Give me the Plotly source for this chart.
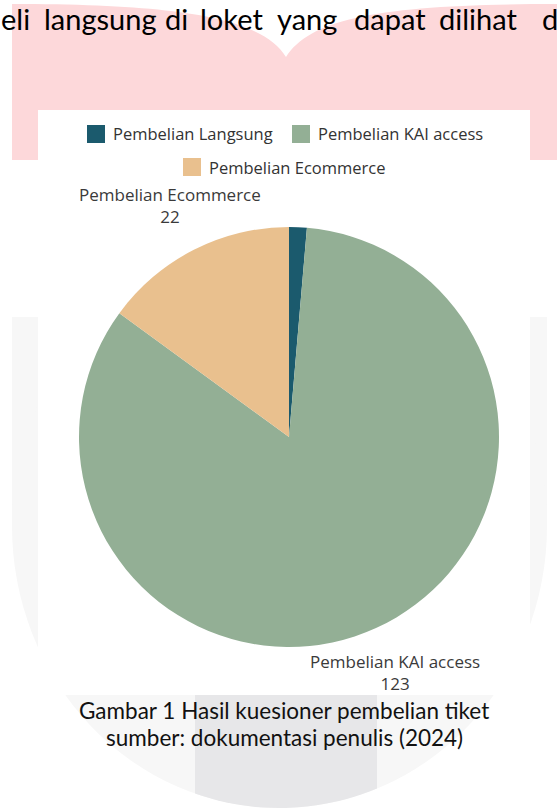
import plotly.graph_objects as go

# ---------------- data ----------------
labels = ["Pembelian Langsung", "Pembelian KAI access", "Pembelian Ecommerce"]
values = [2, 123, 22]
colors = ["#1b5a6d", "#93af95", "#e9c08e"]
shown_labels = [False, True, True]

top_words = ["eli", "langsung", "di", "loket", "yang", "dapat", "dilihat", "d"]
caption_lines = ["Gambar 1 Hasil kuesioner pembelian tiket",
                 "sumber: dokumentasi penulis (2024)"]

# ---------------- layout helpers ----------------
W, H = 557, 810


def px(x):
    return x / W


def py(y):
    return 1 - y / H


shapes = []

# pink watermark band (top)
pink_path = (
    f"M {px(12)},{py(160)} L {px(12)},{py(4)} "
    f"C {px(180)},{py(4)} {px(262)},{py(18)} {px(286)},{py(57)} "
    f"C {px(312)},{py(16)} {px(390)},{py(4)} {px(560)},{py(4)} "
    f"L {px(560)},{py(160)} Z"
)
shapes.append(dict(type="path", path=pink_path, xref="paper", yref="paper",
                   fillcolor="#fdd8da", line=dict(width=0), layer="below"))

# light gray U watermark
ugray = "#f7f7f7"
shapes.append(dict(type="rect", xref="paper", yref="paper",
                   x0=px(12), x1=px(547), y0=py(317), y1=py(526),
                   fillcolor=ugray, line=dict(width=0), layer="below"))
shapes.append(dict(type="circle", xref="paper", yref="paper",
                   x0=px(12), x1=px(547), y0=py(526 - 282), y1=py(526 + 282),
                   fillcolor=ugray, line=dict(width=0), layer="below"))

# darker gray block clipped by the U curve
cx, cy, a, b = 279.5, 526, 267.5, 282
pts = []
n = 24
for i in range(n + 1):
    x = 377 - (377 - 195) * i / n
    y = cy + b * (1 - ((x - cx) / a) ** 2) ** 0.5
    pts.append((x, y))
gpath = f"M {px(195)},{py(695)} L {px(377)},{py(695)} "
gpath += " ".join(f"L {px(x)},{py(y)}" for x, y in pts) + " Z"
shapes.append(dict(type="path", path=gpath, xref="paper", yref="paper",
                   fillcolor="#e7e7e9", line=dict(width=0), layer="below"))

# white chart box
shapes.append(dict(type="rect", xref="paper", yref="paper",
                   x0=px(38), x1=px(530), y0=py(110), y1=py(695),
                   fillcolor="#ffffff", line=dict(width=0), layer="below"))

annotations = []

# document text at the top (justified words)
word_x = [-1, 42, 163, 198, 275, 352, 437, 540]
for w, x in zip(top_words, word_x):
    annotations.append(dict(text=w, x=px(x), y=py(18), xref="paper", yref="paper",
                            xanchor="left", yanchor="middle", showarrow=False,
                            font=dict(family="Lato", size=29, color="#000000")))

# custom legend
leg_font = dict(family="Open Sans", size=16.5, color="#333333")
leg_pos = [(87, 134), (292, 134), (183, 167)]
sq = 18
for lab, col, (lx, ly) in zip(labels, colors, leg_pos):
    shapes.append(dict(type="rect", xref="paper", yref="paper",
                       x0=px(lx), x1=px(lx + sq), y0=py(ly - sq / 2), y1=py(ly + sq / 2),
                       fillcolor=col, line=dict(width=0)))
    annotations.append(dict(text=lab, x=px(lx + sq + 6), y=py(ly), xref="paper", yref="paper",
                            xanchor="left", yanchor="middle", showarrow=False, font=leg_font))

# slice labels
lab_pos = [None, (395, 672), (170, 205)]
for lab, val, show, pos in zip(labels, values, shown_labels, lab_pos):
    if show:
        annotations.append(dict(text=f"{lab}<br>{val}", x=px(pos[0]), y=py(pos[1]),
                                xref="paper", yref="paper", xanchor="center", yanchor="middle",
                                showarrow=False, align="center",
                                font=dict(family="Open Sans", size=17, color="#3a3a3a")))

# caption
for line, y in zip(caption_lines, [710, 737]):
    annotations.append(dict(text=line, x=px(284), y=py(y), xref="paper", yref="paper",
                            xanchor="center", yanchor="middle", showarrow=False,
                            font=dict(family="Lato", size=22.5, color="#111111")))

# pie geometry
pcx, pcy, r = 289, 437, 210
fig = go.Figure(go.Pie(
    labels=labels, values=values, sort=False, direction="clockwise", rotation=0,
    textinfo="none", showlegend=False,
    marker=dict(colors=colors, line=dict(width=0)),
    domain=dict(x=[px(pcx - r), px(pcx + r)], y=[py(pcy + r), py(pcy - r)]),
))

fig.update_layout(width=W, height=H, margin=dict(l=0, r=0, t=0, b=0),
                  paper_bgcolor="#ffffff", plot_bgcolor="#ffffff",
                  shapes=shapes, annotations=annotations, showlegend=False)

fig.write_html("out.html")
